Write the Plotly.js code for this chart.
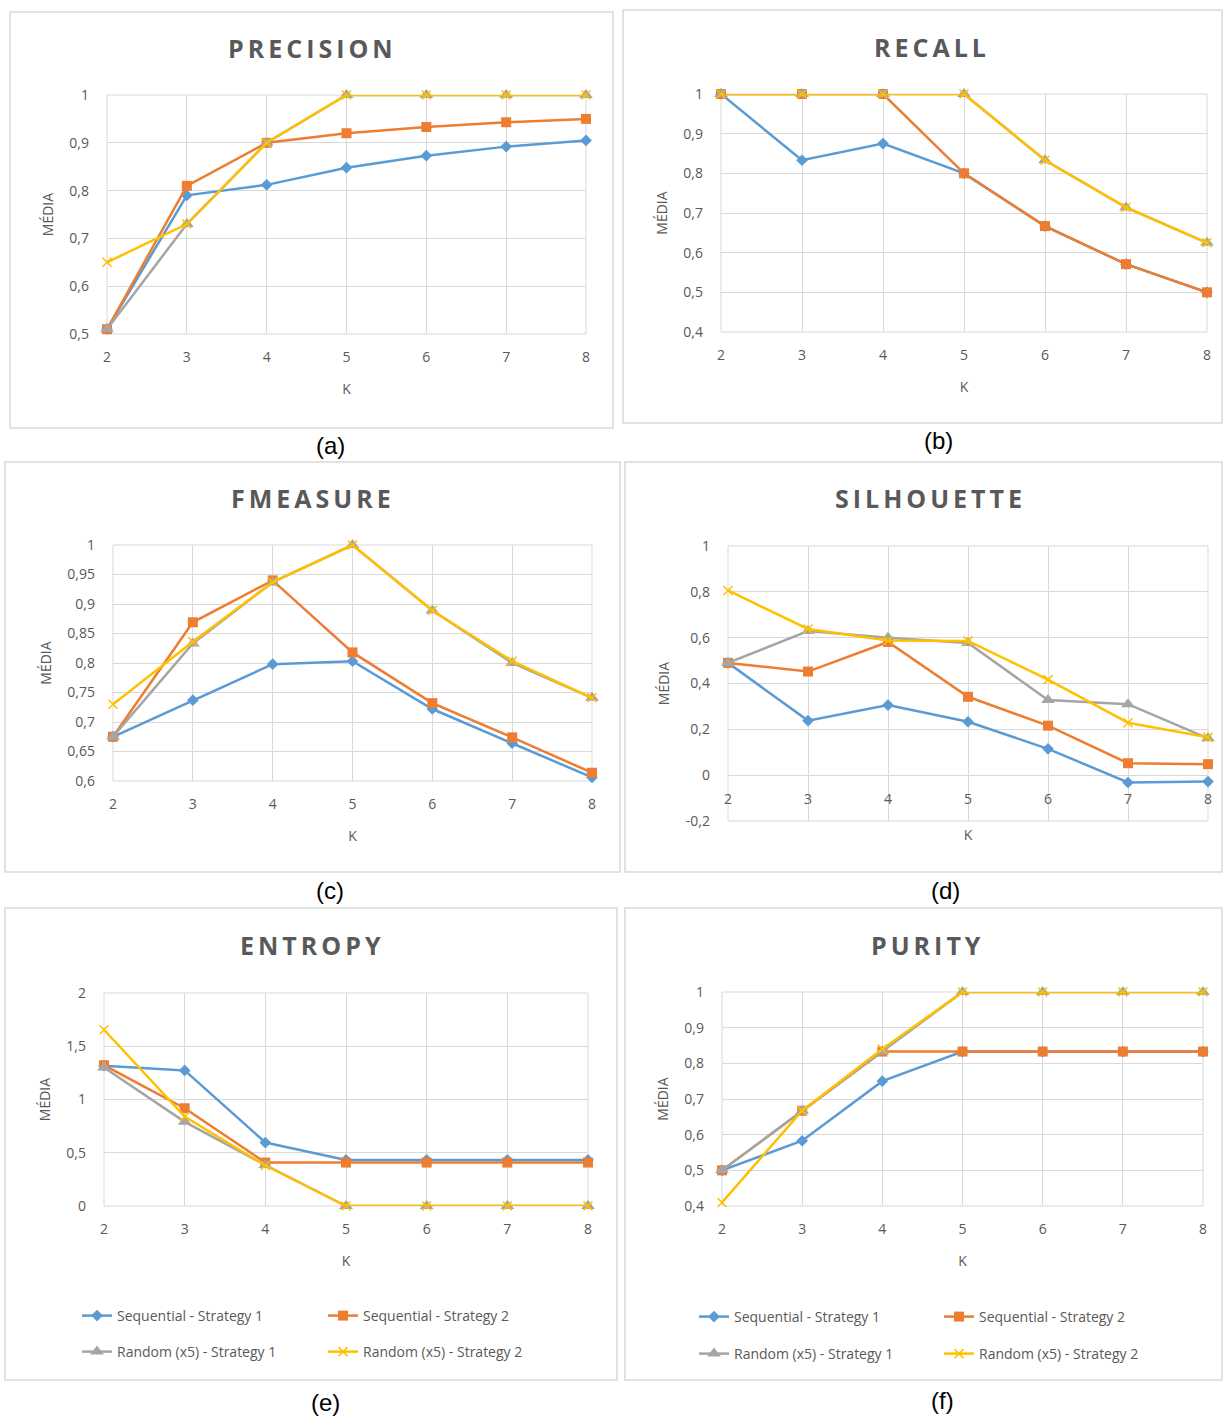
<!DOCTYPE html>
<html>
<head>
<meta charset="utf-8">
<script src="https://cdn.plot.ly/plotly-3.0.1.min.js"></script>
<style>
html,body{margin:0;padding:0;background:#fff;}
#chart{width:1224px;height:1419px;}
g.annotation[data-index="0"] text,g.annotation[data-index="1"] text,g.annotation[data-index="2"] text,
g.annotation[data-index="3"] text,g.annotation[data-index="4"] text,g.annotation[data-index="5"] text{letter-spacing:4px;}
</style>
</head>
<body>
<div id="chart"></div>
<script>
// ---------------- DATA ----------------
const K = [2, 3, 4, 5, 6, 7, 8];
const seriesNames = ["Sequential - Strategy 1", "Sequential - Strategy 2", "Random (x5) - Strategy 1", "Random (x5) - Strategy 2"];
const panelTitles = ["PRECISION", "RECALL", "FMEASURE", "SILHOUETTE", "ENTROPY", "PURITY"];
const captions = ["(a)", "(b)", "(c)", "(d)", "(e)", "(f)"];

const precisionSeq1 = [0.51, 0.79, 0.812, 0.848, 0.873, 0.892, 0.905];
const precisionSeq2 = [0.51, 0.81, 0.90, 0.92, 0.933, 0.943, 0.95];
const precisionRnd1 = [0.51, 0.73, 0.90, 1, 1, 1, 1];
const precisionRnd2 = [0.65, 0.73, 0.90, 1, 1, 1, 1];

const recallSeq1 = [1, 0.833, 0.875, 0.80, 0.667, 0.571, 0.50];
const recallSeq2 = [1, 1, 1, 0.80, 0.667, 0.571, 0.50];
const recallRnd1 = [1, 1, 1, 1, 0.833, 0.714, 0.625];
const recallRnd2 = [1, 1, 1, 1, 0.833, 0.714, 0.625];

const fmeasureSeq1 = [0.675, 0.737, 0.798, 0.803, 0.722, 0.664, 0.606];
const fmeasureSeq2 = [0.675, 0.869, 0.940, 0.818, 0.732, 0.674, 0.614];
const fmeasureRnd1 = [0.675, 0.833, 0.937, 1, 0.889, 0.80, 0.741];
const fmeasureRnd2 = [0.73, 0.836, 0.937, 1, 0.889, 0.803, 0.741];

const silhouetteSeq1 = [0.49, 0.238, 0.306, 0.233, 0.115, -0.032, -0.028];
const silhouetteSeq2 = [0.49, 0.452, 0.581, 0.342, 0.216, 0.052, 0.048];
const silhouetteRnd1 = [0.49, 0.629, 0.60, 0.577, 0.328, 0.31, 0.161];
const silhouetteRnd2 = [0.806, 0.638, 0.588, 0.586, 0.417, 0.229, 0.165];

const entropySeq1 = [1.317, 1.273, 0.596, 0.433, 0.433, 0.433, 0.433];
const entropySeq2 = [1.322, 0.918, 0.408, 0.408, 0.408, 0.408, 0.408];
const entropyRnd1 = [1.30, 0.79, 0.385, 0, 0, 0, 0];
const entropyRnd2 = [1.655, 0.84, 0.38, 0, 0, 0, 0];

const puritySeq1 = [0.50, 0.583, 0.75, 0.833, 0.833, 0.833, 0.833];
const puritySeq2 = [0.50, 0.667, 0.833, 0.833, 0.833, 0.833, 0.833];
const purityRnd1 = [0.50, 0.667, 0.833, 1, 1, 1, 1];
const purityRnd2 = [0.41, 0.667, 0.84, 1, 1, 1, 1];

const ticksA = [0.5, 0.6, 0.7, 0.8, 0.9, 1];
const labelsA = ["0,5", "0,6", "0,7", "0,8", "0,9", "1"];
const ticksB = [0.4, 0.5, 0.6, 0.7, 0.8, 0.9, 1];
const labelsB = ["0,4", "0,5", "0,6", "0,7", "0,8", "0,9", "1"];
const ticksC = [0.6, 0.65, 0.7, 0.75, 0.8, 0.85, 0.9, 0.95, 1];
const labelsC = ["0,6", "0,65", "0,7", "0,75", "0,8", "0,85", "0,9", "0,95", "1"];
const ticksD = [-0.2, 0, 0.2, 0.4, 0.6, 0.8, 1];
const labelsD = ["-0,2", "0", "0,2", "0,4", "0,6", "0,8", "1"];
const ticksE = [0, 0.5, 1, 1.5, 2];
const labelsE = ["0", "0,5", "1", "1,5", "2"];
const ticksF = [0.4, 0.5, 0.6, 0.7, 0.8, 0.9, 1];
const labelsF = ["0,4", "0,5", "0,6", "0,7", "0,8", "0,9", "1"];

// ---------------- LAYOUT HELPERS ----------------
const W = 1224, H = 1419;
const px = v => v / W;
const py = v => 1 - v / H;
const colors = ["#5B9BD5", "#ED7D31", "#A5A5A5", "#FFC000"];
const symbols = ["diamond", "square", "triangle-up", "x-thin"];
const msizes = [9, 10, 12, 9];
const FONT = "Open Sans, Noto Sans, sans-serif";
const TXT = "#595959";
const GRID = "#d9d9d9";

const panels = [
  {series: [precisionSeq1, precisionSeq2, precisionRnd1, precisionRnd2], x0: 107, x1: 586, y0: 95, y1: 334, yr: [0.5, 1], tv: ticksA, tt: labelsA,
   box: [10, 12, 613, 428], titleX: 310, titleY: 48, capX: 330, capY: 445},
  {series: [recallSeq1, recallSeq2, recallRnd1, recallRnd2], x0: 721, x1: 1207, y0: 94, y1: 332, yr: [0.4, 1], tv: ticksB, tt: labelsB,
   box: [623, 10, 1222, 423], titleX: 930, titleY: 47, capX: 938, capY: 440},
  {series: [fmeasureSeq1, fmeasureSeq2, fmeasureRnd1, fmeasureRnd2], x0: 113, x1: 592, y0: 545, y1: 781, yr: [0.6, 1], tv: ticksC, tt: labelsC,
   box: [5, 462, 620, 872], titleX: 311, titleY: 498, capX: 330, capY: 890},
  {series: [silhouetteSeq1, silhouetteSeq2, silhouetteRnd1, silhouetteRnd2], x0: 728, x1: 1208, y0: 546, y1: 821, yr: [-0.2, 1], tv: ticksD, tt: labelsD,
   box: [625, 462, 1222, 872], titleX: 928, titleY: 498, capX: 945, capY: 890, xAtZero: true},
  {series: [entropySeq1, entropySeq2, entropyRnd1, entropyRnd2], x0: 104, x1: 588, y0: 993, y1: 1206, yr: [0, 2], tv: ticksE, tt: labelsE,
   box: [5, 908, 617, 1380], titleX: 310, titleY: 945, capX: 325, capY: 1402, legend: {rows: [1316, 1352], cols: [118, 364], base: 0}},
  {series: [puritySeq1, puritySeq2, purityRnd1, purityRnd2], x0: 722, x1: 1203, y0: 992, y1: 1206, yr: [0.4, 1], tv: ticksF, tt: labelsF,
   box: [625, 908, 1222, 1380], titleX: 926, titleY: 945, capX: 942, capY: 1400, legend: {rows: [1317, 1354], cols: [735, 980], base: 4}}
];

const traces = [];
const layout = {
  width: W, height: H,
  margin: {l: 0, r: 0, t: 0, b: 0},
  paper_bgcolor: "#fff", plot_bgcolor: "rgba(0,0,0,0)",
  font: {family: FONT, color: TXT, size: 14},
  showlegend: true,
  shapes: [], annotations: []
};

// titles first (indices 0-5 for CSS letter-spacing)
panels.forEach((p, i) => {
  layout.annotations.push({text: panelTitles[i], xref: "paper", yref: "paper", x: px(p.titleX + 2), y: py(p.titleY),
    xanchor: "center", yanchor: "middle", showarrow: false,
    font: {family: FONT, size: 25, color: TXT, weight: 700}});
});
panels.forEach((p, i) => {
  layout.annotations.push({text: captions[i], xref: "paper", yref: "paper", x: px(p.capX), y: py(p.capY),
    xanchor: "center", yanchor: "middle", showarrow: false,
    font: {family: "Liberation Sans, Arial, sans-serif", size: 24, color: "#000"}});
  layout.shapes.push({type: "rect", xref: "paper", yref: "paper", x0: px(p.box[0]), x1: px(p.box[2]), y0: py(p.box[3]), y1: py(p.box[1]),
    line: {color: GRID, width: 1.5}, fillcolor: "rgba(0,0,0,0)", layer: "below"});
});

panels.forEach((p, i) => {
  const n = i + 1;
  const xa = "xaxis" + (n === 1 ? "" : n), ya = "yaxis" + (n === 1 ? "" : n);
  const xr = "x" + (n === 1 ? "" : n), yr = "y" + (n === 1 ? "" : n);
  const dom = [py(p.y1), py(p.y0)];
  // plot-area frame (edges of the grid) in axis-domain coordinates
  layout.shapes.push({type: "rect", xref: xr + " domain", yref: yr + " domain", x0: 0, x1: 1, y0: 0, y1: 1,
    line: {color: GRID, width: 1}, fillcolor: "rgba(0,0,0,0)", layer: "below"});
  layout[xa] = {
    domain: [px(p.x0), px(p.x1)], range: [2, 8], tickvals: K, ticktext: K.map(String),
    showgrid: true, gridcolor: GRID, gridwidth: 1, zeroline: false, showline: false, ticks: "",
    ticklabelstandoff: 13, tickfont: {family: FONT, size: 14, color: TXT},
    title: {text: "K", font: {family: FONT, size: 14, color: TXT}, standoff: 19},
    anchor: yr, fixedrange: true
  };
  if (p.xAtZero) {
    const zeroPx = p.y1 - (0 - p.yr[0]) / (p.yr[1] - p.yr[0]) * (p.y1 - p.y0);
    layout[xa].anchor = "free";
    layout[xa].position = py(zeroPx);
    layout[xa].ticklabelstandoff = 14;
    layout[xa].title.standoff = 23;
  }
  layout[ya] = {
    domain: dom, range: p.yr, tickvals: p.tv, ticktext: p.tt,
    showgrid: true, gridcolor: GRID, gridwidth: 1, zeroline: false, showline: false, ticks: "",
    ticklabelstandoff: 17, tickfont: {family: FONT, size: 14, color: TXT},
    title: {text: "MÉDIA", font: {family: FONT, size: 14, color: TXT}, standoff: 12},
    anchor: xr, fixedrange: true
  };
  p.series.forEach((vals, s) => {
    const t = {
      type: "scatter", mode: "lines+markers", x: K, y: vals, name: seriesNames[s],
      xaxis: xr, yaxis: yr, cliponaxis: false,
      line: {color: colors[s], width: 2.5},
      marker: {symbol: symbols[s], size: msizes[s], color: colors[s],
        line: {color: colors[s], width: s === 3 ? 1.5 : 0}},
      showlegend: false
    };
    if (p.legend) {
      const lgIdx = p.legend.base + s + 1;
      const lgName = "legend" + (lgIdx === 1 ? "" : lgIdx);
      t.showlegend = true;
      t.legend = lgName;
      const row = Math.floor(s / 2), col = s % 2;
      layout[lgName] = {
        x: px(p.legend.cols[col] - 41), y: py(p.legend.rows[row]), xanchor: "left", yanchor: "middle",
        xref: "paper", yref: "paper",
        bgcolor: "rgba(0,0,0,0)", borderwidth: 0, orientation: "v",
        font: {family: FONT, size: 14, color: TXT}, itemwidth: 30
      };
    }
    traces.push(t);
  });
});

Plotly.newPlot("chart", traces, layout, {displayModeBar: false, staticPlot: true});
</script>
</body>
</html>
